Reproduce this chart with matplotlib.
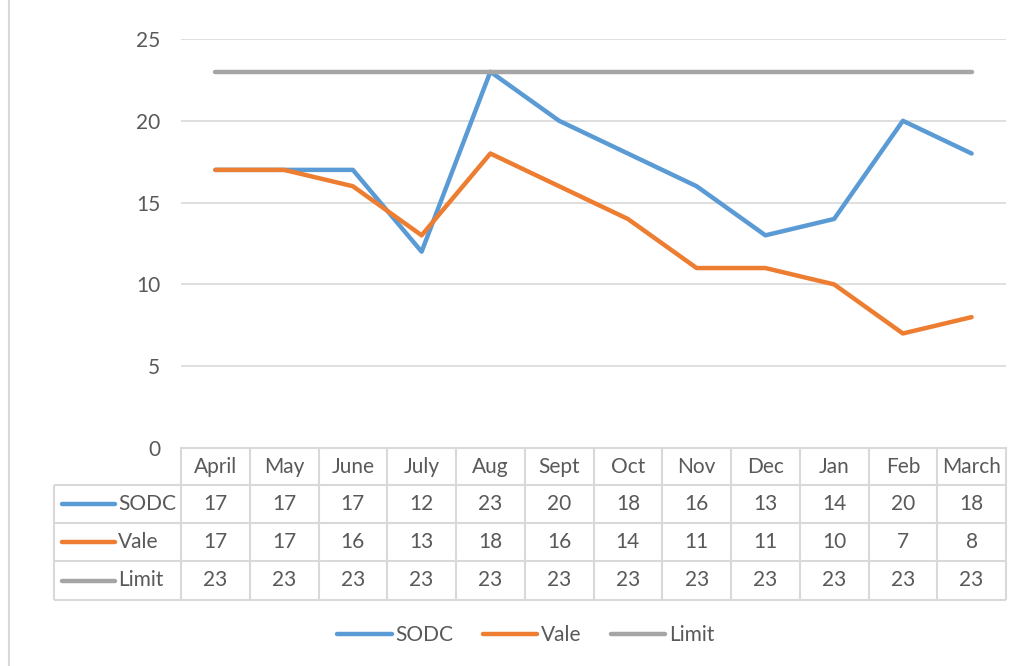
import matplotlib
matplotlib.use("Agg")
from matplotlib import pyplot as plt
from matplotlib.lines import Line2D

months = ["April", "May", "June", "July", "Aug", "Sept", "Oct", "Nov", "Dec", "Jan", "Feb", "March"]
sodc = [17, 17, 17, 12, 23, 20, 18, 16, 13, 14, 20, 18]
vale = [17, 17, 16, 13, 18, 16, 14, 11, 11, 10, 7, 8]
limit = [23, 23, 23, 23, 23, 23, 23, 23, 23, 23, 23, 23]
names = ["SODC", "Vale", "Limit"]
colors = ["#5B9BD5", "#ED7D31", "#A5A5A5"]
yticks = [0, 5, 10, 15, 20, 25]

W, H = 1023, 666
plt.rcParams['font.family'] = ['Lato', 'DejaVu Sans']
txt = "#595959"
grid = "#D9D9D9"
fs = 15

fig = plt.figure(figsize=(W / 100, H / 100), dpi=100)
# axes: x 181..1006 px, y 39..448 px
ax = fig.add_axes([181 / W, 1 - 448 / H, (1006 - 181) / W, (448 - 39) / H])
x = list(range(len(months)))
series = [sodc, vale, limit]
for vals, nm, c in zip(series, names, colors):
    ax.plot(x, vals, color=c, lw=3.2, label=nm, solid_capstyle='round', zorder=3)

ax.set_xlim(-0.5, len(months) - 0.5)
ax.set_ylim(0, 25)
ax.set_yticks(yticks)
ax.set_xticks([])
ax.tick_params(axis='y', length=0, pad=15, labelsize=fs, labelcolor=txt)
ax.grid(axis='y', color=grid, lw=1.2)
for s in ["top", "right", "left"]:
    ax.spines[s].set_visible(False)
ax.spines["bottom"].set_color(grid)
ax.spines["bottom"].set_linewidth(1.5)

# data table below the axes
def ay(p):
    return -(p - 448) / (448 - 39)

def fx(p):
    return p / W

def fy(p):
    return 1 - p / H

rows = [448, 485, 523, 561, 600]
tr = ax.get_xaxis_transform()
lk = dict(color=grid, lw=1.5, clip_on=False, solid_capstyle='butt')
for k in range(len(months) + 1):
    ax.plot([k - 0.5, k - 0.5], [ay(448), ay(600)], transform=tr, **lk)
for r in rows[1:]:
    fig.add_artist(Line2D([fx(54), fx(1006)], [fy(r), fy(r)], **lk))
fig.add_artist(Line2D([fx(54), fx(54)], [fy(485), fy(600)], **lk))

for i, m in enumerate(months):
    ax.text(i, ay(467), m, ha='center', va='center', transform=tr, fontsize=fs, color=txt, clip_on=False)
for j, (vals, nm, c) in enumerate(zip(series, names, colors)):
    yc = (rows[j + 1] + rows[j + 2]) / 2
    for i, v in enumerate(vals):
        ax.text(i, ay(yc), str(v), ha='center', va='center', transform=tr, fontsize=fs, color=txt, clip_on=False)
    fig.add_artist(Line2D([fx(62), fx(115)], [fy(yc), fy(yc)], color=c, lw=3.2, solid_capstyle='round'))
    fig.text(fx(118), fy(yc), nm, ha='left', va='center', fontsize=fs, color=txt)

# chart frame left edge
fig.add_artist(Line2D([fx(9), fx(9)], [0, 1], color=grid, lw=1.5))

fig.legend(loc='center', bbox_to_anchor=(fx(526), fy(635)), ncol=3, frameon=False,
           fontsize=fs, labelcolor=txt, handlelength=2.6, handletextpad=0.2, columnspacing=1.4)

fig.savefig("out.png", dpi=100)
